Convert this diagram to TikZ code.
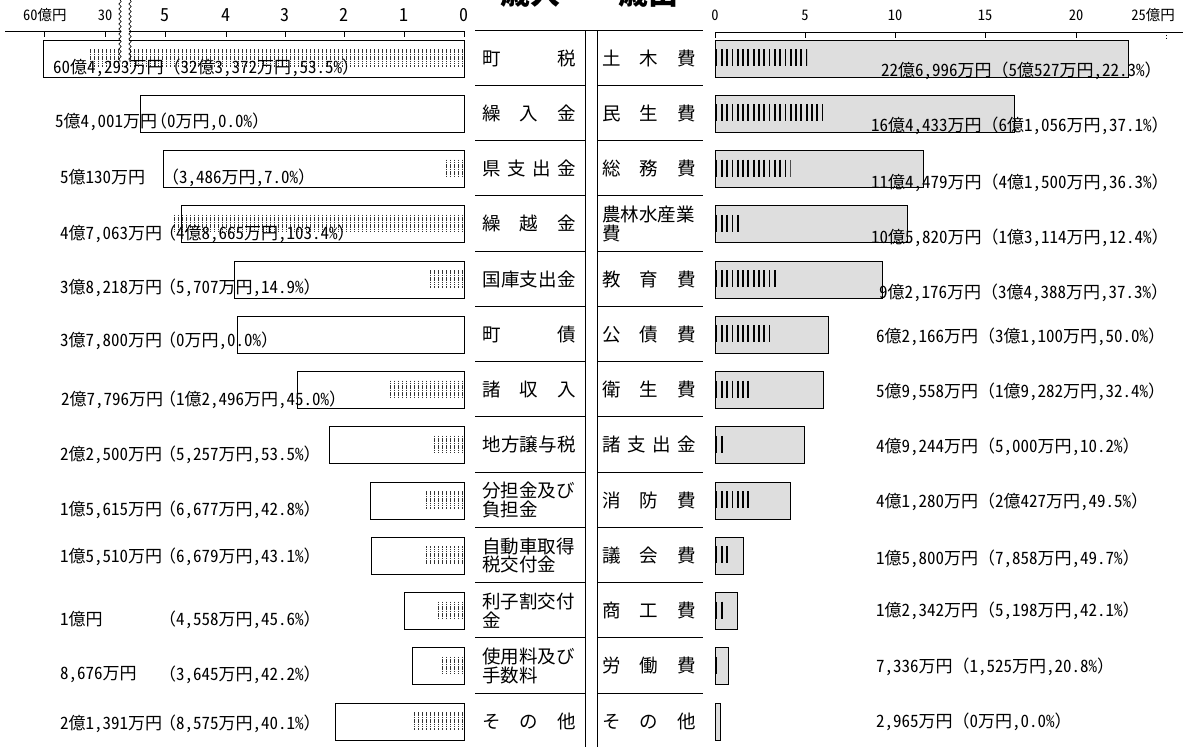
\documentclass[tikz,border=0pt]{standalone}
\usepackage{fontspec}
\setmainfont{Noto Sans CJK JP}
\newfontfamily\numfont{Noto Sans CJK JP}[RawFeature={+hwid}]
\usetikzlibrary{decorations.pathmorphing}

\newcommand\spaced[1]{\makebox[94pt][s]{#1}}
\newcommand\opn{{\rmfamily （}}
\newcommand\cls{{\rmfamily ）}}

\tikzset{
  amt/.style={inner sep=0pt, anchor=west, font=\numfont\fontsize{17}{18}\selectfont},
  lbl/.style={inner sep=0pt, anchor=west, align=left, font=\fontsize{18.5}{18.5}\selectfont},
  axislbl/.style={inner sep=0pt, font=\numfont\fontsize{18}{18}\selectfont},
  smalllbl/.style={inner sep=0pt, font=\numfont\fontsize{14.5}{14.5}\selectfont},
  inbar/.style={draw, line width=0.8pt, fill=white},
  outbar/.style={draw, line width=0.8pt, fill=black!13},
  instripe/.style={black!80, line width=0.75pt, dash pattern=on 1.6pt off 0.7pt},
  outstripe/.style={black, line width=1.8pt},
  rule/.style={line width=0.8pt},
}

\begin{document}
\begin{tikzpicture}[x=1pt, y=-1pt]
  \useasboundingbox (0,0) rectangle (1185,747);

  % titles, cut by the page top
  \node[font=\fontsize{30}{30}\selectfont\bfseries] (intitle) at (530,-7) {歳入};
  \node[font=\fontsize{30}{30}\selectfont\bfseries] (outtitle) at (648,-7) {歳出};

  % income scale
  \draw[rule] (5,31) -- (465,31);
  \foreach \x in {44,105,165,226,285,344,404,464}
    \draw[rule] (\x,31) -- (\x,37);
  \node[smalllbl] (in60) at (45,15) {60億円};
  \node[smalllbl] (in30) at (105,15) {30};
  \node[axislbl] (in5) at (165,15) {5};
  \node[axislbl] (in4) at (226,15) {4};
  \node[axislbl] (in3) at (285,15) {3};
  \node[axislbl] (in2) at (344,15) {2};
  \node[axislbl] (in1) at (404,15) {1};
  \node[axislbl] (in0) at (464,15) {0};

  % expense scale
  \draw[rule] (715,32) -- (1183,32);
  \foreach \x in {715,805,895,985,1076}
    \draw[rule] (\x,32) -- (\x,38);
  \draw[rule, dotted] (1166,32) -- (1166,38);
  \node[smalllbl] (out0) at (715,15) {0};
  \node[smalllbl] (out5) at (805,15) {5};
  \node[smalllbl] (out10) at (895,15) {10};
  \node[smalllbl] (out15) at (985,15) {15};
  \node[smalllbl] (out20) at (1076,15) {20};
  \node[smalllbl, anchor=east] (out25) at (1175,15) {25億円};

  % middle table
  \draw[rule] (475,30) -- (703,30);
  \draw[rule] (585,30) -- (585,747);
  \draw[rule] (597,30) -- (597,747);
  \foreach \k in {1,...,12} {
    \draw[rule] (475,30+55.25*\k) -- (585,30+55.25*\k);
    \draw[rule] (597,30+55.25*\k) -- (703,30+55.25*\k);
  }

  % income rows
  \foreach \k/\lx/\ls/\ly/\ax/\lamt/\px/\lpar/\lname in {
    1/43/90/38/53/{60億4,293万円\opn 32億3,372万円,53.5\%\cls}/160/{}/{\spaced{町\hfill 税}},
    2/140/464/37/55/{5億4,001万円}/150/{\opn 0万円,0.0\%\cls}/{\spaced{繰\hfill 入\hfill 金}},
    3/163.2/443.1/37/60/{5億130万円}/162/{\opn 3,486万円,7.0\%\cls}/{\spaced{県\hfill 支\hfill 出\hfill 金}},
    4/181.6/172/38/60/{4億7,063万円}/159/{\opn 4億8,665万円,103.4\%\cls}/{\spaced{繰\hfill 越\hfill 金}},
    5/234.7/429.8/37/60/{3億8,218万円}/159/{\opn 5,707万円,14.9\%\cls}/{\spaced{国\hfill 庫\hfill 支\hfill 出\hfill 金}},
    6/237.2/464/35/60/{3億7,800万円}/159/{\opn 0万円,0.0\%\cls}/{\spaced{町\hfill 債}},
    7/297.2/389/38/61/{2億7,796万円}/159/{\opn 1億2,496万円,45.0\%\cls}/{\spaced{諸\hfill 収\hfill 入}},
    8/329/432.5/38/60/{2億2,500万円}/159/{\opn 5,257万円,53.5\%\cls}/{\spaced{地\hfill 方\hfill 譲\hfill 与\hfill 税}},
    9/370.3/423.9/38/60/{1億5,615万円}/159/{\opn 6,677万円,42.8\%\cls}/{分担金及び\\負担金},
    10/370.9/423.9/30/60/{1億5,510万円}/159/{\opn 6,679万円,43.1\%\cls}/{自動車取得\\税交付金},
    11/404/436.7/37/60/{1億円}/159/{\opn 4,558万円,45.6\%\cls}/{利子割交付\\金},
    12/411.9/442.1/37/60/{8,676万円}/159/{\opn 3,645万円,42.2\%\cls}/{使用料及び\\手数料},
    13/335.7/412.5/31/60/{2億1,391万円}/159/{\opn 8,575万円,40.1\%\cls}/{\spaced{そ\hfill の\hfill 他}}} {
    \pgfmathsetmacro\sep{30+55.25*(\k-1)}
    \draw[inbar] (\lx,\sep+10) rectangle (464,\sep+47);
    \begin{scope}
      \clip (\ls,\sep) rectangle (463,\sep+47);
      \foreach \x in {462,458,...,50}
        \draw[instripe] (\x,\sep+19) -- (\x,\sep+37);
    \end{scope}
    \ifnum\k=1
      % broken scale
      \fill[white] (121,0) rectangle (129,62);
      \draw[decorate, decoration={snake, amplitude=1.2pt, segment length=5pt}, line width=0.6pt] (120,0) -- (120,62);
      \draw[decorate, decoration={snake, amplitude=1.2pt, segment length=5pt}, line width=0.6pt] (130,0) -- (130,62);
    \fi
    \node[amt] (inamt\k) at (\ax,\sep+\ly) {\lamt};
    \node[amt] (inpar\k) at (\px,\sep+\ly) {\lpar};
    \node[lbl] (inlbl\k) at (482,\sep+28) {\lname};
  }

  % expense rows
  \foreach \k/\rx/\rs/\ry/\tx/\rtxt/\rname in {
    1/1128.1/807/41/881/{22億6,996万円\opn 5億527万円,22.3\%\cls}/{\spaced{土\hfill 木\hfill 費}},
    2/1014.3/826.1/41/871/{16億4,433万円\opn 6億1,056万円,37.1\%\cls}/{\spaced{民\hfill 生\hfill 費}},
    3/923.4/790.5/42/871/{11億4,479万円\opn 4億1,500万円,36.3\%\cls}/{\spaced{総\hfill 務\hfill 費}},
    4/907.6/738.9/42/871/{10億5,820万円\opn 1億3,114万円,12.4\%\cls}/{農林水産業\\費},
    5/882.8/777.6/42/879/{9億2,176万円\opn 3億4,388万円,37.3\%\cls}/{\spaced{教\hfill 育\hfill 費}},
    6/828.1/771.6/31/876/{6億2,166万円\opn 3億1,100万円,50.0\%\cls}/{\spaced{公\hfill 債\hfill 費}},
    7/823.4/750.1/30/876/{5億9,558万円\opn 1億9,282万円,32.4\%\cls}/{\spaced{衛\hfill 生\hfill 費}},
    8/804.6/724.1/30/876/{4億9,244万円\opn 5,000万円,10.2\%\cls}/{\spaced{諸\hfill 支\hfill 出\hfill 金}},
    9/790.1/752.2/30/876/{4億1,280万円\opn 2億427万円,49.5\%\cls}/{\spaced{消\hfill 防\hfill 費}},
    10/743.8/729.3/32/876/{1億5,800万円\opn 7,858万円,49.7\%\cls}/{\spaced{議\hfill 会\hfill 費}},
    11/737.5/724.5/28/876/{1億2,342万円\opn 5,198万円,42.1\%\cls}/{\spaced{商\hfill 工\hfill 費}},
    12/728.4/717.8/29/876/{7,336万円\opn 1,525万円,20.8\%\cls}/{\spaced{労\hfill 働\hfill 費}},
    13/720.4/715/29/876/{2,965万円\opn 0万円,0.0\%\cls}/{\spaced{そ\hfill の\hfill 他}}} {
    \pgfmathsetmacro\sep{30+55.25*(\k-1)}
    \draw[outbar] (715,\sep+10) rectangle (\rx,\sep+47);
    \begin{scope}
      \clip (715,\sep) rectangle (\rs,\sep+47);
      \foreach \x in {716.5,721.8,...,835}
        \draw[outstripe] (\x,\sep+19) -- (\x,\sep+36);
    \end{scope}
    \node[amt] (outamt\k) at (\tx,\sep+\ry) {\rtxt};
    \node[lbl] (outlbl\k) at (602,\sep+28) {\rname};
  }
\end{tikzpicture}
\end{document}
